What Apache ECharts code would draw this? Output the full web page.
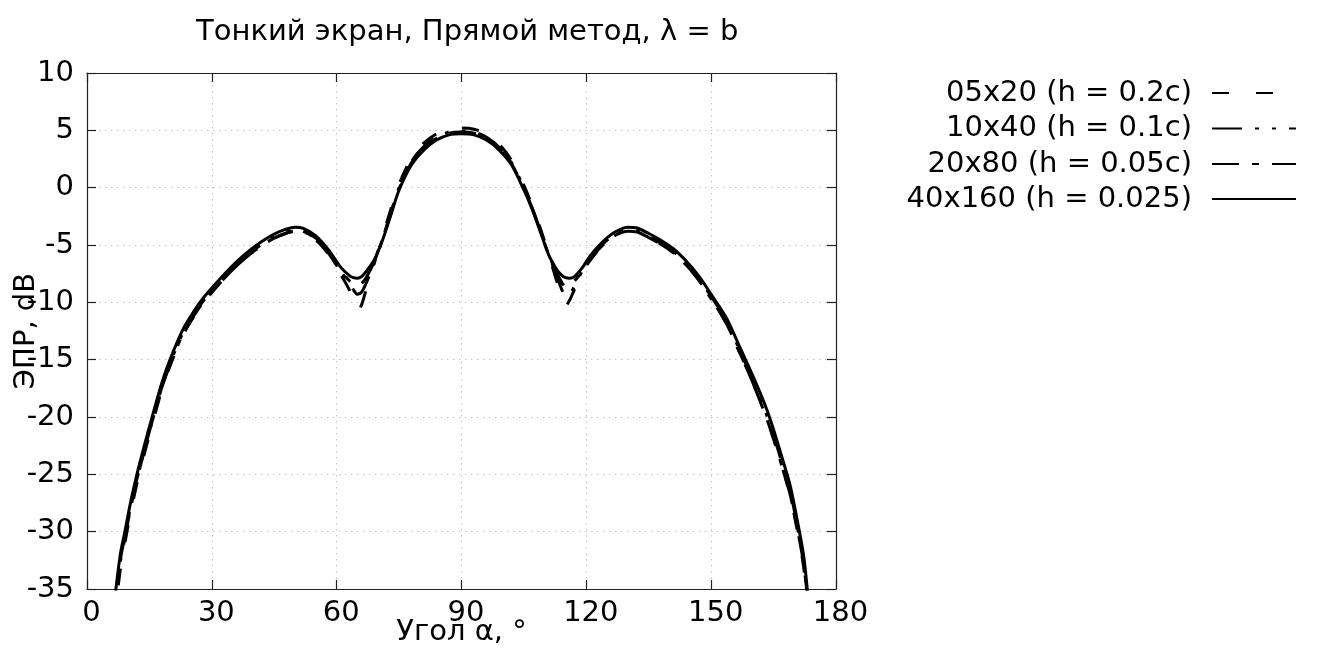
<!DOCTYPE html>
<html>
<head>
<meta charset="utf-8">
<script src="https://cdn.jsdelivr.net/npm/echarts@6/dist/echarts.min.js"></script>
<style>html,body{margin:0;padding:0;background:#fff}#chart{width:1317px;height:655px}</style>
</head>
<body>
<div id="chart"></div>
<script>
var titleText = 'Тонкий экран, Прямой метод, λ = b';
var xName = 'Угол α, °';
var yName = 'ЭПР, dB';
var seriesNames = ['05x20 (h = 0.2c)', '10x40 (h = 0.1c)', '20x80 (h = 0.05c)', '40x160 (h = 0.025)'];

var angles = [6.3, 8, 9.1, 10.5, 12, 14, 15.5, 18, 20, 23, 26, 28, 30, 33, 36, 39, 42, 45, 48, 50, 52, 55, 58, 61, 63, 64, 65, 66, 67, 69, 71, 73, 75, 78, 81, 84, 87, 90, 93, 96, 99, 102, 105, 107, 109, 111, 113, 114, 115, 116, 117, 119, 121, 124, 127, 130, 132, 135, 138, 141, 144, 147, 150, 152, 154, 157, 160, 163, 165, 167, 169, 171, 172.3, 173.6];

var s05 = [-38.5, -33.3, -31.0, -28.3, -25.8, -22.9, -20.9, -17.6, -15.5, -12.9, -11.05, -10.0, -9.15, -7.9, -6.8, -5.85, -5.05, -4.4, -3.95, -3.8, -3.9, -4.55, -5.8, -7.6, -8.9, -10.0, -10.8, -10.2, -9.0, -6.6, -4.3, -1.9, 0.3, 2.6, 3.9, 4.7, 5.1, 5.2, 5.1, 4.7, 3.8, 2.4, 0.2, -1.6, -3.6, -5.9, -8.3, -9.6, -10.3, -9.8, -9.0, -7.4, -6.3, -5.0, -4.15, -3.8, -3.85, -4.35, -4.95, -5.7, -6.75, -8.05, -9.7, -10.8, -12.1, -14.5, -17.0, -19.8, -21.9, -24.3, -26.9, -30.5, -33.3, -38.5];

var s10 = [-37.8, -32.7, -30.6, -27.9, -25.5, -22.6, -20.6, -17.4, -15.3, -12.7, -10.9, -9.85, -9.0, -7.8, -6.7, -5.75, -4.95, -4.3, -3.85, -3.7, -3.8, -4.4, -5.6, -7.3, -8.3, -8.9, -9.3, -9.1, -8.4, -6.6, -4.5, -2.2, 0.0, 2.3, 3.6, 4.4, 4.85, 4.95, 4.85, 4.4, 3.55, 2.2, 0.0, -1.8, -3.8, -5.9, -7.8, -8.8, -9.4, -9.3, -8.7, -7.3, -6.1, -4.9, -4.05, -3.7, -3.75, -4.25, -4.85, -5.6, -6.6, -7.9, -9.5, -10.6, -11.9, -14.3, -16.8, -19.5, -21.6, -24.0, -26.5, -30.1, -32.8, -37.8];

var s20 = [-37.5, -32.5, -30.4, -27.8, -25.4, -22.6, -20.6, -17.4, -15.4, -12.8, -11.0, -9.95, -9.1, -7.9, -6.8, -5.85, -5.05, -4.4, -3.95, -3.8, -3.85, -4.45, -5.7, -7.3, -8.1, -8.4, -8.5, -8.35, -7.9, -6.5, -4.5, -2.3, -0.1, 2.2, 3.5, 4.3, 4.75, 4.85, 4.75, 4.3, 3.45, 2.1, -0.1, -1.8, -3.8, -5.9, -7.5, -8.2, -8.6, -8.5, -8.2, -7.3, -6.2, -5.0, -4.15, -3.8, -3.85, -4.35, -4.95, -5.7, -6.75, -8.05, -9.7, -10.8, -12.1, -14.5, -17.0, -19.8, -21.9, -24.3, -26.8, -30.3, -33.0, -37.5];

var s40 = [-37, -32, -30, -27.4, -25, -22.2, -20.2, -17.0, -14.95, -12.4, -10.6, -9.6, -8.75, -7.55, -6.45, -5.5, -4.7, -4.05, -3.6, -3.45, -3.55, -4.2, -5.4, -6.95, -7.65, -7.85, -7.9, -7.75, -7.35, -6.3, -4.6, -2.4, -0.2, 2.0, 3.3, 4.15, 4.6, 4.7, 4.6, 4.15, 3.3, 2.0, -0.2, -1.9, -3.9, -5.9, -7.2, -7.6, -7.85, -7.9, -7.8, -7.0, -5.9, -4.7, -3.85, -3.45, -3.5, -4.0, -4.6, -5.35, -6.4, -7.7, -9.3, -10.4, -11.6, -14.0, -16.4, -19.0, -21.1, -23.5, -26.0, -29.6, -32.3, -37];

var xTicks = {min: 0, max: 180, interval: 30};
var yTicks = {min: -35, max: 10, interval: 5};

var FONT = 'DejaVu Sans';
var FS = 29;
var dashes = [[17, 27], [30, 13, 4, 13, 4, 13], [27, 13, 7, 13], 'solid'];
var allValues = [s05, s10, s20, s40];

function pairs(vals) { return angles.map(function (a, i) { return [a, vals[i]]; }); }

var gridLine = {show: true, lineStyle: {color: '#c4c4c4', width: 1, type: [1.5, 4.5]}};
var axisLineStyle = {show: true, onZero: false, lineStyle: {color: '#222', width: 1.2}};
var tick = {show: true, inside: true, length: 9, lineStyle: {color: '#222', width: 1.2}};

var series = seriesNames.map(function (n, i) {
  return {
    name: n, type: 'line', data: pairs(allValues[i]), symbol: 'none', smooth: 0.3,
    clip: true, z: 2 + i,
    itemStyle: {color: '#000'},
    lineStyle: {color: '#000', width: 3, type: dashes[i], cap: 'butt'}
  };
});

var legendRowsTop = [78.5, 114, 149.5, 184.5];
var legends = seriesNames.map(function (n, i) {
  return {
    data: [n], right: 20, top: legendRowsTop[i], orient: 'horizontal', align: 'right',
    padding: 0, itemWidth: 84, itemHeight: 14, selectedMode: false,
    itemStyle: {opacity: 0},
    textStyle: {fontFamily: FONT, fontSize: FS, color: '#000', padding: [0, 15, 0, 0]}
  };
});

var option = {
  animation: false,
  backgroundColor: '#fff',
  title: {text: titleText, left: 196, top: 18, padding: 0,
    textStyle: {fontFamily: FONT, fontSize: FS, fontWeight: 'normal', color: '#000'}},
  legend: legends,
  grid: {left: 87, right: 481, top: 73, bottom: 66, containLabel: false, outerBoundsMode: 'none'},
  xAxis: [
    {type: 'value', min: xTicks.min, max: xTicks.max, interval: xTicks.interval, position: 'bottom',
     name: xName, nameLocation: 'middle', nameGap: 29, nameMoveOverlap: false,
     nameTextStyle: {fontFamily: FONT, fontSize: FS, color: '#000'},
     axisLine: axisLineStyle, axisTick: tick, splitLine: gridLine,
     axisLabel: {fontFamily: FONT, fontSize: FS, color: '#000', margin: 10, padding: [0, 0, 0, 9],
       showMinLabel: true, showMaxLabel: true}},
    {type: 'value', min: xTicks.min, max: xTicks.max, interval: xTicks.interval, position: 'top',
     axisLine: axisLineStyle, axisTick: tick, splitLine: {show: false}, axisLabel: {show: false}}
  ],
  yAxis: [
    {type: 'value', min: yTicks.min, max: yTicks.max, interval: yTicks.interval, position: 'left',
     name: yName, nameLocation: 'middle', nameGap: 46, nameMoveOverlap: false,
     nameTextStyle: {fontFamily: FONT, fontSize: FS, color: '#000'},
     axisLine: axisLineStyle, axisTick: tick, splitLine: gridLine,
     axisLabel: {fontFamily: FONT, fontSize: FS, color: '#000', margin: 13,
       showMinLabel: true, showMaxLabel: true}},
    {type: 'value', min: yTicks.min, max: yTicks.max, interval: yTicks.interval, position: 'right',
     axisLine: axisLineStyle, axisTick: tick, splitLine: {show: false}, axisLabel: {show: false}}
  ],
  series: series
};

var chart = echarts.init(document.getElementById('chart'), null, {renderer: 'canvas'});
chart.setOption(option);
</script>
</body>
</html>
